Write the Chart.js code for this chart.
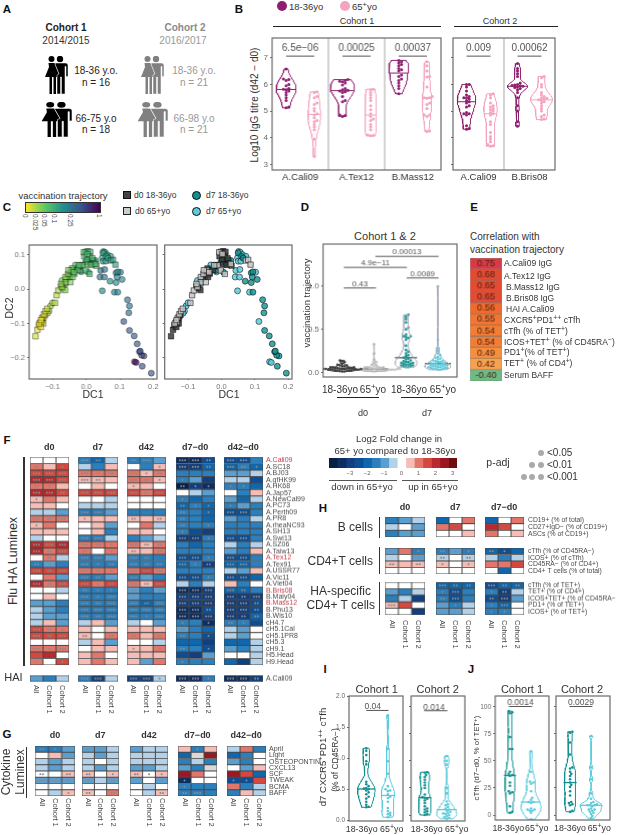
<!DOCTYPE html>
<html>
<head>
<meta charset="utf-8">
<title>Vaccination figure</title>
<script src="https://cdn.jsdelivr.net/npm/chart.js@4"></script>
<style>
html, body { margin: 0; padding: 0; background: #fff; }
#page { position: relative; width: 617px; height: 835px; overflow: hidden; font-family: "Liberation Sans", Arial, sans-serif; color: #333; }
#page canvas { position: absolute; }
.t { position: absolute; white-space: nowrap; line-height: 1; }
.s { font-size: .8em; position: relative; top: -.38em; }
.l { position: absolute; }
</style>
</head>
<body>
<div id="page">
<svg width="0" height="0" style="position:absolute">
  <symbol id="couple" viewBox="0 0 25 38">
    <circle cx="8.5" cy="3" r="3"/>
    <path d="M5.5 7h6l1.5 4l4 10h-4v17h-2.5v-17h-1.5v17h-2.5v-17h-4.5l4-10z"/>
    <circle cx="17" cy="3" r="3.2"/>
    <path d="M12.5 7h10q2.5 0 2.5 2.5v11h-2v-10h-1v27.500h-3.500v-17h-1v17h-3.500v-19l2-1l-4-10z" stroke="#fff" stroke-width=".5"/>
  </symbol>
</svg>
</div>
<script>
Chart.defaults.font.family = '"Liberation Sans", Arial, sans-serif';
Chart.defaults.animation = false;
Chart.defaults.events = [];

// B: log10 IgG titre
const bCali1Young = [6.58,6.2,6.18,6.15,6.0,5.95,5.85,5.82,5.8,5.75,5.7,5.6,5.5,5.4,5.15,5.12];
const bCali1Old = [5.72,5.7,5.55,5.5,5.3,5.25,5.1,5.0,4.9,4.85,4.75,4.65,4.6,4.5,4.4,4.3,3.95,3.3];
const bTex1Young = [6.18,6.15,6.12,6.1,6.05,5.98,5.85,5.8,5.78,5.75,5.72,5.7,5.55,5.4,5.35,4.85,4.83,4.8];
const bTex1Old = [5.82,5.8,5.7,5.6,5.5,5.4,5.2,5.05,4.9,4.8,4.7,4.65,4.5,4.4,4.3,4.1,4.08,4.07];
const bMass1Young = [6.9,6.85,6.8,6.75,6.7,6.6,6.55,6.5,6.35,6.3,6.2,6.15,6.05,5.95,5.85,5.65];
const bMass1Old = [6.85,6.7,6.5,6.3,6.28,5.9,5.55,5.5,5.5,5.48,5.3,5.25,5.1,4.85,4.85,4.8,4.25,4.23];
const bCali2Young = [6.0,6.0,5.9,5.75,5.6,5.55,5.5,5.5,5.45,5.4,5.35,5.3,5.2,5.15,4.95,4.9,4.9,4.85,4.45,4.35,4.32];
const bCali2Old = [5.65,5.6,5.5,5.3,5.2,5.15,5.1,5.05,5,4.95,4.9,4.85,4.6,4.5,4.2,4.05,3.95,3.85,3.75,3.7,3.68];
const bBris2Young = [6.78,6.6,6.5,6.4,6.3,6.05,6.0,5.98,5.96,5.95,5.93,5.9,5.88,5.85,5.8,5.7,5.5,5.2,5.0,4.6,4.43];
const bBris2Old = [6.3,6.25,6.0,5.9,5.7,5.6,5.55,5.5,5.48,5.45,5.42,5.4,5.35,5.3,5.2,5.1,5.0,4.85,4.8,4.7,4.68];
const bTicks = [3,4,5,6,7];
const bCohort1Names = ['A.Cali09','A.Tex12','B.Mass12'];
const bCohort2Names = ['A.Cali09','B.Bris08'];
const bCohort1P = ['6.5e\u221206','0.00025','0.00037'];
const bCohort2P = ['0.009','0.00062'];

// C: diffusion map, each row is DC1, DC2, trajectory
const cD0Young = [[-.151,-.137,.01],[-.145,-.118,.005],[-.141,-.105,0],[-.136,-.097,0],[-.131,-.09,.002],[-.127,-.083,.005],[-.123,-.076,.01],[-.128,-.1,.005],[-.135,-.11,.003],[-.075,.008,.03],[-.07,.002,.03],[-.063,-.003,.035],[-.05,.035,.04],[-.045,.05,.04],[-.042,.06,.05],[-.035,.045,.05],[-.025,.055,.05],[-.018,.07,.05],[-.04,.035,.045],[-.002,.108,.08],[.005,.11,.08],[.012,.108,.08],[-.006,.095,.08],[.01,.095,.08],[.018,.09,.07],[.002,.085,.07],[.024,.073,.06],[.03,.068,.06],[.005,.072,.06],[.015,.07,.06]];
const cD0Old = [[-.133,-.096,.005],[-.131,-.083,.005],[-.126,-.073,.01],[-.121,-.064,.015],[-.116,-.057,.015],[-.14,-.1,.003],[-.135,-.09,.003],[-.093,-.04,.02],[-.088,-.018,.02],[-.083,-.004,.025],[-.072,.006,.03],[-.062,.035,.035],[-.054,.044,.04],[-.044,.054,.045],[-.012,.069,.06],[.073,.083,.14],[.08,.085,.14],[.087,.071,.13],[-.022,.069,.055],[.028,.073,.08],[-.007,.107,.07],[.003,.102,.07],[-.002,.054,.07],[.01,.044,.08],[-.062,.02,.035],[-.047,.02,.04],[-.037,.049,.05],[-.075,.015,.03],[-.053,.055,.04]];
const cD7Young = [[.194,-.244,.5],[.167,-.224,.55],[.172,-.194,.65],[.165,-.192,.6],[.159,-.182,.6],[.161,-.18,.55],[.152,-.159,.5],[.143,-.136,.45],[.129,-.12,.45],[.127,-.069,.3],[.129,-.049,.28],[.123,-.031,.27],[.094,-.009,.2],[.107,.028,.19],[.089,.019,.2],[.071,.023,.18],[.089,.047,.22],[.094,.05,.22],[.092,.035,.22],[.006,.049,.1],[-.017,.054,.1],[.003,.083,.1],[-.022,.064,.1],[-.002,.078,.1],[.028,.083,.1],[.015,.075,.11],[.02,.085,.11],[.05,.105,.13],[.06,.095,.13],[.065,.09,.12],[-.045,.04,.05],[-.06,.03,.04],[-.07,.012,.04]];
const cD7Old = [[.144,-.211,1],[.149,-.213,.9],[.112,-.094,.45],[.084,-.009,.2],[.048,-.005,.2],[.041,.035,.3],[.054,.035,.3],[.043,.054,.3],[.055,.057,.3],[.102,.049,.22],[.051,.109,.14],[.056,.107,.14],[.063,.1,.15],[.073,.095,.14],[.048,.091,.14],[.05,.081,.14],[.058,.081,.14],[.023,.081,.1],[.01,.078,.1],[-.022,.064,.08],[-.027,.059,.07],[-.05,.044,.05],[-.057,.03,.045],[-.072,.025,.04],[-.062,.015,.04],[-.106,-.049,.025],[-.111,-.064,.025],[-.1,-.04,.025],[-.115,-.07,.02],[-.032,.07,.07],[-.015,.05,.08]];
const cTicksX = [-.1,0,.1,.2];
const cTicksY = [-.2,-.1,0,.1];
const trajBreaks = [0,.025,.05,.1,.25,1];
const trajFractions = [0,.14,.25,.395,.605,1];
const viridisStops = ['#fde725','#5dc963','#21908c','#3b528b','#440154'];

// D: vaccination trajectory by group
const dD0Young = [.14,.13,.12,.1,.09,.08,.08,.07,.07,.06,.06,.06,.05,.05,.05,.05,.05,.045,.04,.04,.04,.04,.04,.03,.03,.03,.03,.03,.03,.02,.02,.02,.02,.02,.015,.01,.01];
const dD0Old = [.33,.22,.15,.12,.1,.09,.08,.07,.06,.06,.06,.05,.05,.05,.05,.05,.04,.04,.04,.04,.04,.03,.03,.03,.03,.03,.03,.03,.03,.02,.02,.02,.02,.02,.02,.02,.015,.015,.01];
const dD7Young = [.67,.65,.62,.58,.52,.5,.44,.42,.42,.41,.4,.38,.31,.26,.24,.22,.2,.19,.17,.16,.15,.14,.13,.12,.12,.11,.11,.1,.1,.09,.09,.08,.08,.07,.07,.06,.06];
const dD7Old = [1.0,.38,.28,.25,.22,.2,.18,.17,.16,.15,.14,.13,.13,.12,.12,.11,.11,.1,.1,.1,.09,.09,.08,.08,.08,.07,.07,.07,.06,.06,.06,.05,.05,.05,.04,.04,.04,.03,.03];
const dTicks = [0,.5,1];

// E: correlations
const corrValues = [.75,.68,.65,.65,.56,.55,.54,.54,.49,.42,-.40];
const corrColors = ['#d73a45','#e34a30','#e64b32','#e54a33','#f06a2d','#f27530','#f37d33','#f37d33','#f78e3e','#f9a04b','#6dbb83'];

// F: Flu HA Luminex, fold change in half log2 units (All, Cohort 1, Cohort 2)
const fluStrains = ['A.Cali09','A.SC18','A.BJ03','A.gfHK99','A.HK68','A.Jap57','A.NewCal99','A.PC73','A.Perth09','A.PR8','A.rheaNC93','A.SH13','A.Swi13','A.SZ06','A.Taiw13','A.Tex12','A.Tex91','A.USSR77','A.Vic11','A.Viet04','B.Bris08','B.Maly04','B.Mass12','B.Phu13','B.Wis10','cH4.7','cH5.1Cal','cH5.1PR8','cH5.3','cH9.1','H5.Head','H9.Head'];
const fluHighlighted = ['A.Cali09','A.Tex12','B.Bris08','B.Mass12'];
const fluD0 = [[0,0,0],[2,1,3],[3,3,3],[4,4,3],[2,2,1],[4,4,3],[1,2,1],[1,1,0],[-1,-1,-2],[2,2,2],[1,2,0],[1,1,1],[-1,0,0],[4,3,4],[4,2,3],[0,2,-1],[-3,-2,-3],[3,3,3],[0,2,-2],[4,2,3],[0,0,-1],[0,1,0],[-2,-2,-3],[-1,-2,-3],[-1,-2,-2],[-1,1,-2],[3,2,2],[3,3,3],[0,0,0],[2,2,2],[3,4,0],[2,0,3]];
const fluD0Sig = ['000','201','333','333','210','332','100','000','000','323','100','000','000','333','323','020','210','323','000','323','000','000','000','000','000','000','321','323','000','313','000','101'];
const fluD7 = [[-3,-4,-1],[-1,-3,1],[2,2,2],[1,1,1],[0,1,0],[3,3,3],[0,0,-1],[-1,-1,-1],[-3,-3,-2],[1,1,1],[0,1,-2],[0,1,-3],[-3,-3,-1],[2,2,2],[2,0,2],[-3,-3,-2],[-3,-3,-3],[2,2,2],[-3,-3,-2],[3,2,3],[-3,-3,-3],[-3,-3,-3],[-3,-3,-3],[-3,-3,-3],[-3,-3,-3],[-1,1,-2],[1,0,1],[1,0,2],[-1,1,-2],[0,1,1],[1,2,0],[1,2,1]];
const fluD7Sig = ['320','000','312','320','000','333','000','000','330','100','000','000','330','321','201','330','312','321','320','312','211','313','323','333','323','001','000','202','000','000','000','000'];
const fluD42 = [[-3,-3,-2],[0,-3,1],[2,1,2],[2,2,1],[1,1,0],[3,2,3],[0,0,0],[0,0,0],[-3,-3,-3],[1,1,1],[0,2,-1],[1,1,0],[-3,-2,-1],[2,1,2],[1,1,2],[-3,-3,-3],[-3,-3,-3],[2,3,2],[-3,-2,-3],[2,1,3],[-2,-3,-2],[-2,-3,-3],[-3,-4,-3],[-3,-3,-3],[-3,-3,-3],[-1,0,-2],[1,1,1],[2,1,2],[0,0,-1],[1,1,2],[1,1,1],[1,-2,2]];
const fluD42Sig = ['230','001','312','321','100','323','000','000','000','202','000','000','000','322','202','320','322','333','300','323','201','100','323','333','313','000','000','202','000','101','000','000'];
const fluD7D0 = [[-7,-7,-5],[-6,-6,-4],[-3,-3,-3],[-3,-2,-6],[-8,-6,-7],[0,-1,-2],[-3,-4,-3],[-4,-3,-4],[-3,-3,-4],[-3,-3,-4],[-3,-3,-3],[-3,-5,-6],[-6,-6,-3],[-3,-4,-3],[-3,-3,-3],[-5,-5,-3],[-4,-3,-6],[-3,-3,-3],[-5,-5,-3],[-1,-3,-1],[-7,-7,-6],[-6,-6,-6],[-6,-6,-6],[-7,-7,-5],[-7,-7,-6],[-3,-3,-7],[-2,-3,-4],[-3,-3,-5],[-4,-4,-6],[-3,-3,-5],[-5,-6,-2],[-3,-3,-3]];
const fluD7D0Sig = ['332','332','000','100','211','000','100','211','201','200','201','100','331','000','000','331','312','000','331','000','333','333','333','332','333','101','200','201','000','201','000','100'];
const fluD42D0 = [[-5,-5,-3],[-4,-3,-4],[-2,-2,-1],[-1,-1,-5],[-3,-3,-4],[0,-3,1],[-2,-4,-1],[-3,-2,-3],[-5,-5,-3],[-2,-3,-1],[-3,-3,-3],[-3,-3,-3],[-5,-5,-3],[-1,-3,-1],[-2,-3,1],[-5,-5,-3],[-4,-4,-3],[-1,-2,1],[-5,-5,-4],[1,-3,0],[-4,-4,-3],[-6,-6,-6],[-6,-6,-5],[-6,-6,-5],[-6,-6,-4],[-3,-3,-5],[-1,-2,0],[-1,-2,0],[-4,-4,-1],[-2,-3,-1],[0,0,-1],[-4,-6,-1]];
const fluD42D0Sig = ['330','321','000','000','110','000','000','110','330','000','000','000','330','000','000','330','330','000','330','000','320','323','332','332','322','210','000','000','000','100','000','000'];

const haiRow = ['A.Cali09'];
const haiPanels = [[[-2,-3,-1]],[[-3,-6,-1]],[[-6,-6,-1]],[[-7,-7,-3]],[[-7,-7,-6]]];
const haiSig = [['000'],['330'],['331'],['331'],['332']];

// G: cytokine Luminex
const cytokines = ['April','Light','OSTEOPONTIN','CXCL13','SCF','TWEAK','BCMA','BAFF'];
const cytoD0 = [[-3,-3,-2],[0,1,-2],[-1,-2,-1],[-1,-2,-1],[0,0,1],[-2,-2,-2],[0,0,0],[0,-1,1]];
const cytoD0Sig = ['211','000','000','000','202','322','000','001'];
const cytoD7 = [[-2,-2,-1],[-1,-2,-1],[-1,0,-1],[-1,-2,-1],[1,0,1],[-2,-1,-2],[0,0,0],[1,0,2]];
const cytoD7Sig = ['220','000','000','000','201','202','000','202'];
const cytoD42 = [[-2,-1,-1],[-1,-1,-1],[-1,-1,-1],[-2,-2,-1],[1,0,1],[-2,0,-2],[0,-1,0],[0,-1,1]];
const cytoD42Sig = ['000','000','000','000','211','001','000','002'];
const cytoD7D0 = [[1,-3,1],[-4,null,5],[-3,-1,-3],[-2,-3,null],[5,2,0],[-7,0,0],[-3,-3,-3],[-3,-3,-3]];
const cytoD7D0Sig = ['010','000','000','000','000','100','100','230'];
const cytoD42D0 = [[-1,2,-3],[-4,-3,0],[-2,-3,0],[0,-2,1],[5,3,-4],[-5,-5,3],[2,-3,-1],[-3,1,-1]];
const cytoD42D0Sig = ['000','000','000','000','000','110','000','000'];

// H: cell populations
const bCellRows = ['CD19+ (% of total)','CD27+IgD\u2212 (% of CD19+)','ASCs (% of CD19+)'];
const cd4Rows = ['cTfh (% of CD45RA\u2212)','ICOS+ (% of cTfh)','CD45RA\u2212 (% of CD4+)','CD4+ T cells (% of total)'];
const haCd4Rows = ['cTfh (% of TET+)','TET+ (% of CD4+)','ICOS+TET+ (% of CD45RA\u2212)','PD1+ (% of TET+)','ICOS+ (% of TET+)'];
const hBcell = [[[-3,-2,-1],[-1,0,-2],[-3,-2,-2]],[[-4,0,2],[2,3,0],[0,0,1]],[[-4,0,2],[4,3,0],[2,0,1]]];
const hCd4 = [[[-2,2,-3],[-1,0,-2],[1,1,1],[0,0,0]],[[-3,-2,-3],[-1,0,-1],[1,0,1],[0,0,0]],[[-4,-5,-4],[-1,-3,-1],[2,2,3],[0,-4,0]]];
const hCd4Sig = [['001','001','202','000'],['211','202','101','000'],['210','000','000','000']];
const hHa = [[[0,0,0],[-2,-3,-1],[-3,-1,-6],[1,3,0],[0,0,-6]],[[-4,-4,-4],[-3,-5,-3],[-3,-5,-3],[-2,-3,-1],[-2,-2,-1]],[[-5,-4,-4],[-3,-6,-1],[-5,-6,-2],[-3,-4,0],[-3,-3,0]]];
const hHaSig = [['000','000','000','300','000'],['322','130','230','110','110'],['322','120','230','130','110']];

// I and J: cell frequencies
const iCohort1Young = [1.16,1.12,1.05,.95,.9,.62,.58,.55,.52,.51,.5,.48,.45,.42,.38,.35,.3,.25,.22,.21];
const iCohort1Old = [1.69,1.15,.95,.75,.55,.5,.48,.47,.42,.38,.36,.3,.2,.15,.12,.1,.08,.05];
const iCohort2Young = [.79,.78,.74,.7,.65,.6,.55,.5,.38,.33,.32,.3,.27,.22,.16,.12,.1,.07,.05,.02,0];
const iCohort2Old = [1.09,1.0,.93,.5,.4,.25,.2,.18,.15,.12,.1,.08,.06,.04,.03,.02,0,-.02,-.04,-.05,-.07];
const jCohort1Young = [96,95,94,72,61,61,40,38,37,36,30,27,22,21,20,8,3,2];
const jCohort1Old = [59,40,31,30,29,22,16,14,12,12,11,6,5,5,4,4,2,-4];
const jCohort2Young = [77,76,67,56,44,43,40,38,36,33,30,28,26,22,18,12,11,10,9,4,3];
const jCohort2Old = [73,44,33,20,15,12,11,10,9,9,9,8,6,5,5,4,3,2,1,-1,-3];
const iTicks = [0,.5,1,1.5,2];
const jTicks = [0,25,50,75,100];

const colYoungB = '#8e1e6f', colOldB = '#f4a4c0';
const colDarkGrey = '#3d3d3d', colLightGrey = '#c4c4c4';
const colTeal = '#12908f', colSky = '#5ccbdc';
// blue end to red end of the legend, level -8 up to 6
const fcPalette = ['#081f45','#0d2e61','#123f7f','#0c4f97','#0f67ae','#2b7fbd','#5b9fd0','#b3d1e8','#ffffff','#f5bdb5','#e3766a','#d5483f','#b92a2e','#9c1820','#6e0c10'];
const colLabels3 = ['All','Cohort 1','Cohort 2'];

const page = document.getElementById('page');

function txt(x, y, html, o) {
  o = o || {};
  const d = document.createElement('div');
  d.className = 't';
  d.innerHTML = html;
  d.style.left = x + 'px';
  d.style.top = y + 'px';
  d.style.fontSize = (o.size || 9) + 'px';
  d.style.color = o.color || '#333';
  if (o.bold) d.style.fontWeight = 'bold';
  const tx = o.a === 'l' ? '0' : o.a === 'r' ? '-100%' : '-50%';
  d.style.transform = 'translate(' + tx + ',-50%)' + (o.rot ? ' rotate(' + o.rot + 'deg)' : '');
  if (o.rot === 90) d.style.transformOrigin = 'left center';
  page.appendChild(d);
}

function hline(x0, x1, y, color, w) {
  const d = document.createElement('div');
  d.className = 'l';
  d.style.cssText = 'left:' + x0 + 'px;top:' + (y - (w || 1) / 2) + 'px;width:' + (x1 - x0) + 'px;height:' + (w || 1) + 'px;background:' + (color || '#333');
  page.appendChild(d);
}
function vline(x, y0, y1, color, w) {
  const d = document.createElement('div');
  d.className = 'l';
  d.style.cssText = 'left:' + (x - (w || 1) / 2) + 'px;top:' + y0 + 'px;width:' + (w || 1) + 'px;height:' + (y1 - y0) + 'px;background:' + (color || '#333');
  page.appendChild(d);
}
function dot(x, y, r, color, border, square) {
  const d = document.createElement('div');
  d.className = 'l';
  d.style.cssText = 'left:' + (x - r) + 'px;top:' + (y - r) + 'px;width:' + (2 * r) + 'px;height:' + (2 * r) + 'px;box-sizing:border-box;background:' + color + ';' +
    (square ? '' : 'border-radius:50%;') + (border ? 'border:1px solid ' + border : '');
  page.appendChild(d);
}
function couple(x, y, w, h, color) {
  const s = document.createElementNS('http://www.w3.org/2000/svg', 'svg');
  s.setAttribute('width', w);
  s.setAttribute('height', h);
  s.setAttribute('viewBox', '0 0 25 38');
  s.setAttribute('preserveAspectRatio', 'none');
  s.style.cssText = 'position:absolute;left:' + x + 'px;top:' + y + 'px;fill:' + color;
  const u = document.createElementNS('http://www.w3.org/2000/svg', 'use');
  u.setAttribute('href', '#couple');
  s.appendChild(u);
  page.appendChild(s);
}

function addCanvas(x, y, w, h) {
  const c = document.createElement('canvas');
  c.width = w;
  c.height = h;
  c.style.left = x + 'px';
  c.style.top = y + 'px';
  c.style.width = w + 'px';
  c.style.height = h + 'px';
  page.appendChild(c);
  return c;
}

// keep the plot area exactly where it was measured: no room for hanging tick labels
function noScalePadding(s) {
  s.paddingTop = s.paddingBottom = s.paddingLeft = s.paddingRight = 0;
}

const framePlugin = {
  id: 'frame',
  afterDraw(chart) {
    const a = chart.chartArea, ctx = chart.ctx;
    ctx.save();
    ctx.strokeStyle = '#6a6a6a';
    ctx.lineWidth = 1.2;
    ctx.strokeRect(a.left, a.top, a.right - a.left, a.bottom - a.top);
    ctx.restore();
  }
};

function notesPlugin(notes, size) {
  return {
    id: 'notes',
    afterDatasetsDraw(chart) {
      const ctx = chart.ctx;
      ctx.save();
      ctx.font = size + 'px "Liberation Sans", Arial, sans-serif';
      ctx.fillStyle = '#555';
      ctx.textAlign = 'center';
      ctx.textBaseline = 'middle';
      notes.forEach(n => ctx.fillText(n.text, chart.scales.x.getPixelForValue(n.x), chart.scales.y.getPixelForValue(n.y)));
      ctx.restore();
    }
  };
}

function sigPlugin(sig) {
  return {
    id: 'sig',
    afterDatasetsDraw(chart) {
      const ctx = chart.ctx;
      ctx.save();
      ctx.fillStyle = '#8a8a8a';
      chart.data.datasets.forEach((ds, col) => {
        chart.getDatasetMeta(col).data.forEach((bar, row) => {
          const n = +sig[row][col];
          const p = bar.getCenterPoint();
          for (let k = 0; k < n; k++) {
            ctx.beginPath();
            ctx.arc(p.x + (k - (n - 1) / 2) * 2.6, p.y, 1, 0, Math.PI * 2);
            ctx.fill();
          }
        });
      });
      ctx.restore();
    }
  };
}

function valuePlugin(values) {
  return {
    id: 'cellValue',
    afterDatasetsDraw(chart) {
      const ctx = chart.ctx;
      ctx.save();
      ctx.font = '9px "Liberation Sans", Arial, sans-serif';
      ctx.fillStyle = '#4a2418';
      ctx.textAlign = 'center';
      ctx.textBaseline = 'middle';
      chart.getDatasetMeta(0).data.forEach((bar, row) => {
        const p = bar.getCenterPoint();
        ctx.fillText(values[row].toFixed(2), p.x, p.y);
      });
      ctx.restore();
    }
  };
}

// heat map: one stacked horizontal bar per row, one dataset per column
function heat(x0, x1, y0, y1, rows, o) {
  o = o || {};
  const lw = o.labels ? (o.labelWidth || 110) : 0;
  const canvas = addCanvas(x0 - 2, y0 - 4, x1 - x0 + 2 + (lw || 2), y1 - y0 + 8);
  const ncol = rows[0].length;
  const datasets = [];
  for (let c = 0; c < ncol; c++) {
    datasets.push({
      data: rows.map(() => 1),
      backgroundColor: rows.map((r, i) => o.colors ? o.colors[i] : (r[c] === null ? '#d9d9d9' : fcPalette[r[c] + 8])),
      borderColor: o.borderColor || '#484848',
      borderWidth: o.borderWidth === undefined ? .8 : o.borderWidth,
      borderSkipped: false,
      barPercentage: 1,
      categoryPercentage: 1
    });
  }
  const plugins = [];
  if (o.sig) plugins.push(sigPlugin(o.sig));
  if (o.values) plugins.push(valuePlugin(o.values));
  new Chart(canvas, {
    type: 'bar',
    data: { labels: o.labels || rows.map((r, i) => i), datasets: datasets },
    options: {
      indexAxis: 'y',
      responsive: false,
      layout: { padding: { left: 2, top: 4, bottom: 4, right: o.labels ? 0 : 2 } },
      plugins: { legend: { display: false }, tooltip: { enabled: false } },
      scales: {
        x: { display: false, stacked: true, min: 0, max: ncol },
        y: {
          display: !!o.labels,
          stacked: true,
          position: 'right',
          afterFit(s) { s.width = lw; noScalePadding(s); },
          grid: { display: false, drawTicks: false },
          border: { display: false },
          ticks: {
            autoSkip: false,
            padding: o.labelPad === undefined ? 3 : o.labelPad,
            font: { size: o.labelSize || 7 },
            color: c => (o.highlight && o.highlight.includes(c.tick.label)) ? '#c23a4b' : '#4a4a4a'
          }
        }
      }
    },
    plugins: plugins
  });
}

function colLabels(x0, x1, y, size) {
  colLabels3.forEach((t, i) => txt(x0 + (x1 - x0) * (i + .5) / 3, y, t, { a: 'l', rot: 90, size: size || 7.5, color: '#444' }));
}

function median(v) {
  const s = v.slice().sort((a, b) => a - b), n = s.length;
  return n % 2 ? s[(n - 1) / 2] : (s[n / 2 - 1] + s[n / 2]) / 2;
}

// gaussian density of the read values, trimmed to their range like geom_violin
function density(vals, adjust) {
  const n = vals.length, m = vals.reduce((a, b) => a + b, 0) / n;
  const sd = Math.sqrt(vals.reduce((a, b) => a + (b - m) * (b - m), 0) / (n - 1));
  const s = vals.slice().sort((a, b) => a - b);
  const iqr = s[Math.floor(n * .75)] - s[Math.floor(n * .25)];
  const bw = .9 * Math.min(sd, iqr > 0 ? iqr / 1.34 : sd) * Math.pow(n, -.2) * (adjust || 1);
  const lo = s[0], hi = s[n - 1], out = [];
  for (let i = 0; i <= 60; i++) {
    const y = lo + (hi - lo) * i / 60;
    let d = 0;
    vals.forEach(v => { d += Math.exp(-.5 * (y - v) * (y - v) / (bw * bw)); });
    out.push({ y: y, d: d });
  }
  const top = Math.max.apply(null, out.map(p => p.d));
  out.forEach(p => { p.d /= top; });
  return out;
}

// beeswarm offsets in pixels
function swarm(vals, pxY, r) {
  const placed = [], out = [];
  vals.slice().sort((a, b) => a - b).forEach(v => {
    const py = v * pxY;
    let k = 0, off = 0;
    while (placed.some(p => Math.hypot(p[0] - off, p[1] - py) < r * 1.7)) {
      k++;
      off = (k % 2 ? 1 : -1) * Math.ceil(k / 2) * r * .9;
    }
    placed.push([off, py]);
    out.push({ v: v, off: off });
  });
  return out;
}

function violinPanel(o) {
  const ml = o.ml || 4, mt = 7, mr = 8, mb = o.mb || 4;
  const canvas = addCanvas(o.box[0] - ml, o.box[2] - mt, o.box[1] - o.box[0] + ml + mr, o.box[3] - o.box[2] + mt + mb);
  const pxX = (o.box[1] - o.box[0]) / (o.xr[1] - o.xr[0]);
  const pxY = (o.box[3] - o.box[2]) / (o.yr[1] - o.yr[0]);
  const datasets = [];
  (o.seps || []).forEach(x => datasets.push({ data: [{ x: x, y: o.yr[0] }, { x: x, y: o.yr[1] }], showLine: true, pointRadius: 0, borderColor: '#b5b5b5', borderWidth: 1.2 }));
  o.violins.forEach(v => {
    const dens = density(v.vals, v.adjust);
    const w = v.hw / pxX;
    const right = dens.map(p => ({ x: v.c + w * p.d, y: p.y }));
    const left = dens.map(p => ({ x: v.c - w * p.d, y: p.y })).reverse();
    datasets.push({ data: right.concat(left, [right[0]]), showLine: true, pointRadius: 0, borderColor: v.outline || v.color, borderWidth: v.lw || 1, tension: 0, backgroundColor: 'transparent' });
    const pts = swarm(v.vals, pxY, v.r).map(p => ({ x: v.c + p.off / pxX, y: p.v }));
    datasets.push({ data: pts, pointRadius: v.r, pointBackgroundColor: v.color, pointBorderWidth: 0 });
    const med = median(v.vals);
    let half = v.bar / pxX;
    if (!v.bar) {
      let best = dens[0];
      dens.forEach(p => { if (Math.abs(p.y - med) < Math.abs(best.y - med)) best = p; });
      half = w * best.d;
    }
    datasets.push({ data: [{ x: v.c - half, y: med }, { x: v.c + half, y: med }], showLine: true, pointRadius: 0, borderColor: v.barColor || v.color, borderWidth: v.barW || 1 });
  });
  const notes = [];
  (o.brackets || []).forEach(b => {
    datasets.push({ data: [{ x: b.from, y: b.y }, { x: b.to, y: b.y }], showLine: true, pointRadius: 0, borderColor: '#555', borderWidth: 1 });
    notes.push({ x: b.tx === undefined ? (b.from + b.to) / 2 : b.tx, y: b.ty, text: b.text });
  });
  new Chart(canvas, {
    type: 'scatter',
    data: { datasets: datasets },
    options: {
      responsive: false,
      layout: { padding: { top: mt, right: mr } },
      plugins: { legend: { display: false }, tooltip: { enabled: false } },
      scales: {
        x: {
          min: o.xr[0], max: o.xr[1],
          afterBuildTicks(s) { s.ticks = (o.xt || []).map(v => ({ value: v })); },
          afterFit(s) { s.height = mb; noScalePadding(s); },
          grid: { drawOnChartArea: false, drawTicks: !!o.xTickMark, tickLength: 2, tickColor: '#777' },
          border: { display: false },
          ticks: { display: !!o.xn, padding: 2, maxRotation: 0, font: { size: o.xnSize || 9.5 }, color: '#333', callback: (v, i) => o.xn ? o.xn[i] : '' }
        },
        y: {
          min: o.yr[0], max: o.yr[1],
          afterBuildTicks(s) { s.ticks = o.yt.map(v => ({ value: v })); },
          afterFit(s) { s.width = ml; noScalePadding(s); },
          grid: { drawOnChartArea: false, tickLength: 2, tickColor: '#666' },
          border: { display: false },
          ticks: { display: !o.noYLabels, padding: 2, font: { size: o.ytSize || 8 }, color: '#666', callback: o.yf || (v => v) }
        }
      }
    },
    plugins: [framePlugin, notesPlugin(notes, o.noteSize || 10)]
  });
}

// trajectory colour, colour bar is not linear in the value
function mix(a, b, f) {
  const p = h => [1, 3, 5].map(i => parseInt(h.substr(i, 2), 16));
  const x = p(a), y = p(b);
  return x.map((c, i) => Math.round(c + (y[i] - c) * f));
}
function trajColor(t, alpha) {
  let i = 0;
  while (i < trajBreaks.length - 2 && t > trajBreaks[i + 1]) i++;
  const f = trajFractions[i] + (trajFractions[i + 1] - trajFractions[i]) * (t - trajBreaks[i]) / (trajBreaks[i + 1] - trajBreaks[i]);
  const pos = Math.min(f, .9999) * (viridisStops.length - 1), k = Math.floor(pos);
  const c = mix(viridisStops[k], viridisStops[k + 1], pos - k);
  return 'rgba(' + c.join(',') + ',' + alpha + ')';
}

function scatterPanel(box, byTraj, showLabels) {
  const ml = showLabels ? 24 : 4, mt = 7, mr = 10, mb = 12;
  const canvas = addCanvas(box[0] - ml, box[2] - mt, box[1] - box[0] + ml + mr, box[3] - box[2] + mt + mb);
  const series = [
    [cD0Old, 'rect', 'rgba(196,196,196,.85)'],
    [cD0Young, 'rect', 'rgba(60,60,60,.85)'],
    [cD7Young, 'circle', 'rgba(18,144,143,.8)'],
    [cD7Old, 'circle', 'rgba(92,203,220,.85)']
  ];
  new Chart(canvas, {
    type: 'scatter',
    data: {
      datasets: series.map(s => ({
        data: s[0].map(p => ({ x: p[0], y: p[1] })),
        pointStyle: s[1],
        pointRadius: s[1] === 'rect' ? 3.8 : 3,
        pointBorderWidth: .7,
        pointBorderColor: byTraj ? 'rgba(0,0,0,.55)' : 'rgba(0,0,0,.75)',
        pointBackgroundColor: byTraj ? s[0].map(p => trajColor(p[2], .65)) : s[2]
      }))
    },
    options: {
      responsive: false,
      layout: { padding: { top: mt, right: mr } },
      plugins: { legend: { display: false }, tooltip: { enabled: false } },
      scales: {
        x: {
          min: -.17, max: .211,
          afterBuildTicks(s) { s.ticks = cTicksX.map(v => ({ value: v })); },
          afterFit(s) { s.height = mb; noScalePadding(s); },
          grid: { drawOnChartArea: false, tickLength: 1, tickColor: '#777' },
          border: { display: false },
          ticks: { padding: 2, maxRotation: 0, font: { size: 7.5 }, color: '#777', callback: v => v.toFixed(1).replace('-', '\u2212') }
        },
        y: {
          min: -.261, max: .128,
          afterBuildTicks(s) { s.ticks = cTicksY.map(v => ({ value: v })); },
          afterFit(s) { s.width = ml; noScalePadding(s); },
          grid: { drawOnChartArea: false, tickLength: 2, tickColor: '#666' },
          border: { display: false },
          ticks: { display: showLabels, padding: 2, font: { size: 7.5 }, color: '#777', callback: v => v.toFixed(1).replace('-', '\u2212') }
        }
      }
    },
    plugins: [framePlugin]
  });
}

// --- panel letters
[['A',7,10],['B',239,10],['C',7,208],['D',305,208],['E',474,208],['F',7,441],['G',7,735],['H',323,509],['I',325,670],['J',471,670]]
  .forEach(p => txt(p[1], p[2], p[0], { size: 11.5, bold: true, color: '#111' }));

// --- A
txt(66, 28, 'Cohort 1', { size: 10, bold: true, color: '#222' });
txt(66, 40.5, '2014/2015', { size: 10, color: '#333' });
txt(185, 28, 'Cohort 2', { size: 10, bold: true, color: '#8a8a8a' });
txt(183, 40.5, '2016/2017', { size: 10, color: '#999' });
couple(43, 56, 25, 38, '#000');
couple(39, 102, 33, 35, '#000');
couple(139, 56, 25, 38, '#808080');
couple(135, 102, 33, 35, '#808080');
txt(96, 71, '18-36 y.o.', { size: 10, color: '#222' });
txt(96, 82.5, 'n = 16', { size: 10, color: '#222' });
txt(96, 119, '66-75 y.o', { size: 10, color: '#222' });
txt(96, 130, 'n = 18', { size: 10, color: '#222' });
txt(194, 71, '18-36 y.o.', { size: 10, color: '#999' });
txt(194, 82.5, 'n = 21', { size: 10, color: '#999' });
txt(194, 119, '66-98 y.o', { size: 10, color: '#999' });
txt(194, 130, 'n = 21', { size: 10, color: '#999' });

// --- B
dot(282, 6, 5, colYoungB);
txt(289, 7, '18-36yo', { a: 'l', size: 9.5 });
dot(345, 6, 5, colOldB);
txt(352, 7, '65<span class="s">+</span>yo', { a: 'l', size: 9.5 });
txt(357, 21, 'Cohort 1', { size: 9 });
hline(273, 441, 26, '#222');
txt(500, 21, 'Cohort 2', { size: 9 });
hline(454, 558, 26, '#222');
txt(255, 105, 'Log10 IgG titre (d42 \u2212 d0)', { rot: -90, size: 10 });

function bViolin(c, vals, color, hw) {
  return { c: c, vals: vals, color: color, hw: hw, r: 1.5, lw: 1 };
}
violinPanel({
  box: [272.3, 440.7, 38, 170], xr: [-.5, 2.5], yr: [2.79, 7.74], yt: bTicks, ml: 16, mb: 14,
  xt: [0, 1, 2], xn: bCohort1Names, seps: [.5, 1.5],
  violins: [
    bViolin(-.25, bCali1Young, colYoungB, 10), bViolin(.25, bCali1Old, colOldB, 6.3),
    bViolin(.75, bTex1Young, colYoungB, 12), bViolin(1.25, bTex1Old, colOldB, 6),
    bViolin(1.75, bMass1Young, colYoungB, 10), bViolin(2.25, bMass1Old, colOldB, 4.7)
  ],
  brackets: bCohort1P.map((t, i) => ({ from: i - .25, to: i + .25, y: 7.06, ty: 7.36, text: t }))
});
violinPanel({
  box: [453, 555, 38, 170], xr: [-.5, 1.5], yr: [2.79, 7.74], yt: bTicks, ml: 4, mb: 14, noYLabels: true,
  xt: [0, 1], xn: bCohort2Names, seps: [.5],
  violins: [
    bViolin(-.235, bCali2Young, colYoungB, 9.3), bViolin(.235, bCali2Old, colOldB, 6.7),
    bViolin(.765, bBris2Young, colYoungB, 10), bViolin(1.235, bBris2Old, colOldB, 11)
  ],
  brackets: bCohort2P.map((t, i) => ({ from: i - .235, to: i + .235, y: 7.06, ty: 7.36, text: t }))
});

// --- C
txt(63, 196, 'vaccination trajectory', { size: 9.5 });
const bar = document.createElement('div');
bar.className = 'l';
bar.style.cssText = 'left:25px;top:202px;width:76px;height:10.5px;box-sizing:border-box;border:.8px solid #333;background:linear-gradient(to right,' + viridisStops.join(',') + ')';
page.appendChild(bar);
trajBreaks.forEach((b, i) => txt(25 + trajFractions[i] * 74, 214, String(b), { a: 'l', rot: 90, size: 6.5, color: '#444' }));
dot(127, 195, 3.8, '#444', '#111', true);
txt(134, 195, 'd0 18-36yo', { a: 'l', size: 8.5 });
dot(127, 211, 3.8, '#ccc', '#222', true);
txt(135, 211, 'd0 65+yo', { a: 'l', size: 8.5 });
dot(196, 195, 4.5, colTeal, '#111');
txt(206, 195, 'd7 18-36yo', { a: 'l', size: 8.5 });
dot(196, 211, 4.5, colSky, '#111');
txt(206, 211, 'd7 65+yo', { a: 'l', size: 8.5 });
scatterPanel([29, 156.7, 244.7, 379.3], true, true);
scatterPanel([164.3, 292.3, 244.7, 379.3], false, false);
txt(9, 308, 'DC2', { rot: -90, size: 10.5 });
txt(93, 394, 'DC1', { size: 10.5 });
txt(229, 394, 'DC1', { size: 10.5 });

// --- D
txt(385, 236, 'Cohort 1 &amp; 2', { size: 11 });
txt(307, 303, 'vaccination trajectory', { rot: -90, size: 9.5 });
violinPanel({
  box: [323.3, 457, 244.3, 377.7], xr: [-.6, 3.6], yr: [-.054, 1.491], yt: dTicks, ml: 16, mb: 3,
  yf: v => v.toFixed(1), noteSize: 8,
  violins: [
    { c: 0, vals: dD0Young, color: colDarkGrey, hw: 14, r: 1.3, bar: 14, barColor: '#111', adjust: .8 },
    { c: 1, vals: dD0Old, color: colLightGrey, outline: '#b5b5b5', hw: 14, r: 1.3, bar: 14, barColor: '#222', adjust: .8 },
    { c: 2, vals: dD7Young, color: colTeal, outline: '#aab', hw: 11, r: 1.3, bar: 11, barColor: '#222', adjust: .6 },
    { c: 3, vals: dD7Old, color: colSky, outline: '#aab', hw: 13, r: 1.3, bar: 13, barColor: '#222', adjust: .6 }
  ],
  brackets: [
    { from: 1.04, to: 3.02, y: 1.348, ty: 1.394, text: '0.00013' },
    { from: .05, to: 2.03, y: 1.22, ty: 1.266, text: '4.9e\u221211' },
    { from: 2.02, to: 3.02, y: 1.097, ty: 1.144, text: '0.0089' },
    { from: .05, to: 1.06, y: .981, ty: 1.027, text: '0.43' }
  ]
});
[[340,'18-36yo'],[373,'65<span class="s">+</span>yo'],[409,'18-36yo'],[443,'65<span class="s">+</span>yo']]
  .forEach(p => txt(p[0], 389.5, p[1], { size: 10 }));
hline(337, 379, 397.7, '#222');
hline(401, 442.7, 397.7, '#222');
txt(363, 412.7, 'd0', { size: 9 });
txt(427, 412.7, 'd7', { size: 9 });

// --- E
txt(470, 237, 'Correlation with', { a: 'l', size: 10 });
txt(470, 249.5, 'vaccination trajectory', { a: 'l', size: 10 });
heat(470, 501.7, 258.3, 380.7, corrValues.map(v => [v]), { colors: corrColors, values: corrValues, borderColor: '#777', borderWidth: .6 });
[[504,263.3,'A.Cali09 IgG'],[504,275.7,'A.Tex12 IgG'],[506,287.3,'B.Mass12 IgG'],[506,297.7,'B.Bris08 IgG'],[506,309,'HAI A.Cali09'],
 [504,320,'CXCR5<span class="s">+</span>PD1<span class="s">++</span> cTfh'],[504,331,'cTfh (% of TET<span class="s">+</span>)'],
 [504,342,'ICOS+TET<span class="s">+</span> (% of CD45RA<span class="s">\u2212</span>)'],[504,352,'PD1<span class="s">+</span>(% of TET<span class="s">+</span>)'],
 [504,363,'TET<span class="s">+</span> (% of CD4<span class="s">+</span>)'],[504,375,'Serum BAFF']]
  .forEach(p => txt(p[0], p[1], p[2], { a: 'l', size: 8.5, color: '#333' }));

// --- F
const fluPanels = [
  ['d0', 29.7, 69, fluD0, fluD0Sig],
  ['d7', 78, 117.7, fluD7, fluD7Sig],
  ['d42', 126.7, 165.7, fluD42, fluD42Sig],
  ['d7\u2212d0', 175.7, 214.7, fluD7D0, fluD7D0Sig],
  ['d42\u2212d0', 223.7, 262.7, fluD42D0, fluD42D0Sig]
];
fluPanels.forEach((p, i) => {
  const last = i === fluPanels.length - 1;
  txt((p[1] + p[2]) / 2, 447, p[0], { size: 9, bold: true });
  heat(p[1], p[2], 457.3, 664.7, p[3], { sig: p[4], labels: last ? fluStrains : null, labelWidth: 60, highlight: fluHighlighted });
  heat(p[1], p[2], 675, 681.7, haiPanels[i], { sig: haiSig[i], labels: last ? haiRow : null, labelWidth: 60 });
  colLabels(p[1], p[2], 685);
});
txt(12.5, 561, 'Flu HA Luminex', { rot: -90, size: 12.5 });
vline(24, 457, 666, '#333', 1.4);
txt(13.5, 677, 'HAI', { size: 11 });

// --- G
const cytoPanels = [
  ['d0', 35.3, 74.7, cytoD0, cytoD0Sig],
  ['d7', 81.7, 119, cytoD7, cytoD7Sig],
  ['d42', 129.7, 168.3, cytoD42, cytoD42Sig],
  ['d7\u2212d0', 178, 217, cytoD7D0, cytoD7D0Sig],
  ['d42\u2212d0', 226.7, 265.7, cytoD42D0, cytoD42D0Sig]
];
cytoPanels.forEach((p, i) => {
  txt((p[1] + p[2]) / 2, 735, p[0], { size: 9, bold: true });
  heat(p[1], p[2], 745.7, 795.7, p[3], { sig: p[4], labels: i === 4 ? cytokines : null, labelWidth: 60 });
  colLabels(p[1], p[2], 798);
});
txt(5.5, 771.7, 'Cytokine', { rot: -90, size: 12 });
txt(20, 771.7, 'Luminex', { rot: -90, size: 12 });
vline(26.7, 746.7, 797.7, '#333', 1.4);

// --- colour legend and p-adj
txt(399, 439, 'Log2 Fold change in', { size: 9.5 });
txt(395, 451, '65+ yo compared to 18-36yo', { size: 9.5 });
heat(329, 457, 458, 468, [fcPalette.map((c, i) => i - 8)], { borderWidth: 0 });
[-3,-2,-1,0,1,2,3].forEach((v, i) => txt(350 + i * 17.1, 473, v === 0 ? '0' : (v < 0 ? '\u2212' + (-v) : String(v)), { size: 6, color: '#666' }));
hline(329, 396.5, 480, '#555');
hline(401.7, 458, 480, '#555');
txt(362, 486.5, 'down in 65+yo', { size: 9.5 });
txt(433, 486.5, 'up in 65+yo', { size: 9.5 });
txt(498, 461.7, 'p-adj', { size: 10.5 });
[[[541],453,'<0.05'],[[532,541],465,'<0.01'],[[524,532,541],477,'<0.001']].forEach(r => {
  r[0].forEach(x => dot(x, r[1], 3.3, '#aaa'));
  txt(547, r[1], r[2].replace('<', '&lt;'), { a: 'l', size: 10 });
});

// --- H
const hColumns = [['d0', 385.3, 424.7], ['d7', 435.7, 475], ['d7\u2212d0', 484.7, 523.7]];
hColumns.forEach((c, i) => {
  txt((c[1] + c[2]) / 2, 506.7, c[0], { size: 9, bold: true });
  heat(c[1], c[2], 517.3, 537.3, hBcell[i], { labels: i === 2 ? bCellRows : null, labelWidth: 92, labelSize: 6.8, labelPad: 4 });
  heat(c[1], c[2], 547.7, 573.7, hCd4[i], { sig: hCd4Sig[i], labels: i === 2 ? cd4Rows : null, labelWidth: 92, labelSize: 6.8, labelPad: 4 });
  heat(c[1], c[2], 582, 614.7, hHa[i], { sig: hHaSig[i], labels: i === 2 ? haCd4Rows : null, labelWidth: 92, labelSize: 6.8, labelPad: 4 });
  colLabels(c[1], c[2], 620);
});
txt(373, 527, 'B cells', { a: 'r', size: 12 });
txt(373, 561, 'CD4+T cells', { a: 'r', size: 12 });
txt(371, 590.7, 'HA-specific', { a: 'r', size: 12 });
txt(375, 605, 'CD4+ T cells', { a: 'r', size: 12 });
vline(379.3, 517, 537.5, '#333', 1.4);
vline(379.3, 547, 574, '#333', 1.4);
vline(379.3, 582, 615, '#333', 1.4);

// --- I
function freqViolin(c, vals, color, hw, bar) {
  return { c: c, vals: vals, color: color, hw: hw, r: 1.3, bar: bar, barColor: color, barW: 1.3, adjust: .7 };
}
violinPanel({
  box: [349.3, 403.3, 696, 821], xr: [-.8, 1.7], yr: [-.01, 2.0], yt: iTicks, ml: 14, yf: v => v.toFixed(1), ytSize: 6.5, noteSize: 8.5,
  violins: [freqViolin(0, iCohort1Young, colTeal, 8.8, 9), freqViolin(1, iCohort1Old, colSky, 6.6, 7)],
  brackets: [{ from: 0, to: 1.03, y: 1.768, ty: 1.827, tx: .3, text: '0.04' }]
});
violinPanel({
  box: [411.3, 464.7, 696, 821], xr: [-.63, 1.83], yr: [-.11, 2.196], yt: iTicks, noYLabels: true, noteSize: 8.5,
  violins: [freqViolin(0, iCohort2Young, colTeal, 6.3, 6.6), freqViolin(1, iCohort2Old, colSky, 10, 10)],
  brackets: [{ from: -.03, to: 1.03, y: 1.924, ty: 1.99, tx: .42, text: '0.014' }]
});
txt(376.7, 688.7, 'Cohort 1', { size: 11 });
txt(437.7, 688.7, 'Cohort 2', { size: 11 });
txt(323, 756.7, 'd7 CXCR5<span class="s">+</span>PD1<span class="s">++</span> cTfh', { rot: -90, size: 9.5 });
txt(335, 760, '(% of CD45RA\u2212)', { rot: -90, size: 8.5 });
[[361.7,829],[426.7,829],[508.3,828],[570,828]].forEach(p => txt(p[0], p[1], '18-36yo', { size: 8.8 }));
[[391.7,829],[456.7,829],[536.7,828],[599.3,828]].forEach(p => txt(p[0], p[1], '65<span class="s">+</span>yo', { size: 8.8 }));

// --- J
violinPanel({
  box: [495, 548.7, 696, 820], xr: [-.7, 1.85], yr: [-4.6, 110], yt: jTicks, ml: 14, ytSize: 6.5, noteSize: 8.5,
  violins: [freqViolin(0, jCohort1Young, colTeal, 5, 6), freqViolin(1, jCohort1Old, colSky, 10, 9)],
  brackets: [{ from: -.05, to: 1.05, y: 100.3, ty: 104, text: '0.0014' }]
});
violinPanel({
  box: [556, 610, 696, 820], xr: [-.67, 1.9], yr: [-4.6, 110], yt: jTicks, noYLabels: true, noteSize: 8.5,
  violins: [freqViolin(0, jCohort2Young, colTeal, 5.8, 6.6), freqViolin(1, jCohort2Old, colSky, 11, 11)],
  brackets: [{ from: -.03, to: 1.06, y: 100.3, ty: 104, text: '0.0029' }]
});
txt(522, 688.7, 'Cohort 1', { size: 11 });
txt(582, 688.7, 'Cohort 2', { size: 11 });
txt(476.7, 758, 'cTfh (d7\u2212d0, % of TET<span class="s">+</span>)', { rot: -90, size: 7.8 });
</script>
</body>
</html>
